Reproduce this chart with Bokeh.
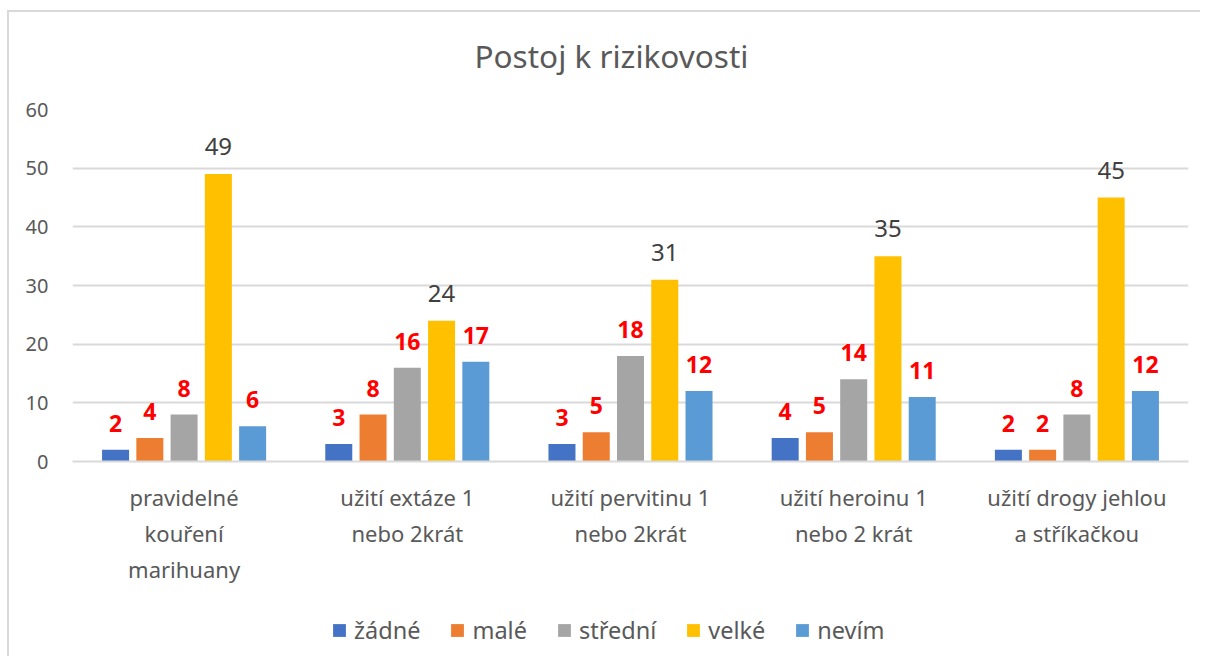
from bokeh.plotting import figure
from bokeh.layouts import column
from bokeh.models import (ColumnDataSource, FactorRange, Range1d, Legend, LegendItem)
from bokeh.transform import dodge
from bokeh.core.properties import value
from bokeh.embed import file_html
from bokeh.resources import INLINE

# ---- data ----
title_text = "Postoj k rizikovosti"
categories = ["pravidelné\nkouření\nmarihuany", "užití extáze 1\nnebo 2krát",
              "užití pervitinu 1\nnebo 2krát", "užití heroinu 1\nnebo 2 krát",
              "užití drogy jehlou\na stříkačkou"]
series_names = ["žádné", "malé", "střední", "velké", "nevím"]
zadne = [2, 3, 3, 4, 2]
male = [4, 8, 5, 5, 2]
stredni = [8, 16, 18, 14, 8]
velke = [49, 24, 31, 35, 45]
nevim = [6, 17, 12, 11, 12]
y_ticks = [0, 10, 20, 30, 40, 50, 60]

series = [zadne, male, stredni, velke, nevim]
colors = ["#4472C4", "#ED7D31", "#A5A5A5", "#FFC000", "#5B9BD5"]
offsets = [-0.307, -0.1535, 0.0, 0.1535, 0.307]
FONT = "Noto Sans"
W = 1191

data = {"cat": categories}
for i, s in enumerate(series):
    data[f"s{i}"] = s
    data[f"t{i}"] = [str(v) for v in s]
source = ColumnDataSource(data)

# title strip
p0 = figure(width=W, height=84, output_backend="svg", toolbar_location=None,
            title=title_text, x_range=Range1d(0, 1), y_range=Range1d(0, 1),
            x_axis_location=None, y_axis_location=None,
            min_border_left=0, min_border_right=0, min_border_top=0, min_border_bottom=0)
p0.grid.visible = False
p0.outline_line_color = None
p0.title.align = "left"
p0.title.offset = 402
p0.title.text_font = FONT
p0.title.text_font_size = "31.5px"
p0.title.text_font_style = "normal"
p0.title.text_color = "#595959"
p0.title.standoff = 38

# main chart
p = figure(x_range=FactorRange(*categories), y_range=Range1d(0, 60),
           width=W, height=589 - 84, output_backend="svg", toolbar_location=None,
           min_border_left=63, min_border_right=12, min_border_top=13,
           min_border_bottom=140)
p.outline_line_color = None

renderers = []
for i, s in enumerate(series):
    r = p.vbar(x=dodge("cat", offsets[i], range=p.x_range), top=f"s{i}", width=0.121,
               source=source, fill_color=colors[i], line_color=None)
    renderers.append(r)
    if i == 3:
        col, size, style, off = "#404040", "24px", "normal", -19
    else:
        col, size, style, off = "#FF0000", "23px", "bold", -18
    p.text(x=dodge("cat", offsets[i], range=p.x_range), y=f"s{i}", text=f"t{i}",
           source=source, text_align="center", text_baseline="bottom", y_offset=off,
           text_font=value(FONT), text_font_size=size, text_font_style=style,
           text_color=col)

p.yaxis.ticker = y_ticks
p.yaxis.axis_line_color = None
p.yaxis.major_tick_line_color = None
p.yaxis.minor_tick_line_color = None
p.yaxis.major_label_text_font = FONT
p.yaxis.major_label_text_font_size = "20px"
p.yaxis.major_label_text_color = "#595959"
p.yaxis.major_label_standoff = 18

p.xaxis.axis_line_color = "#d9d9d9"
p.xaxis.axis_line_width = 2
p.xaxis.major_tick_line_color = None
p.xaxis.minor_tick_line_color = None
p.xaxis.major_label_text_font = FONT
p.xaxis.major_label_text_font_size = "22px"
p.xaxis.major_label_text_color = "#595959"
p.xaxis.major_label_standoff = 14

p.xgrid.grid_line_color = None
p.ygrid.grid_line_color = "#d9d9d9"
p.ygrid.grid_line_width = 2

# legend strip below the chart (zero-size key glyphs in the series colours)
p2 = figure(width=W, height=55, output_backend="svg", toolbar_location=None,
            x_range=Range1d(0, 1), y_range=Range1d(0, 1),
            x_axis_location=None, y_axis_location=None,
            min_border_left=0, min_border_right=0, min_border_top=0, min_border_bottom=0)
p2.grid.visible = False
p2.outline_line_color = None
key_src = ColumnDataSource(dict(x=[0], top=[0]))
keys = [p2.vbar(x="x", top="top", width=0, source=key_src, fill_color=c, line_color=None)
        for c in colors]
legend = Legend(items=[LegendItem(label=n, renderers=[r]) for n, r in zip(series_names, keys)],
                orientation="horizontal", location=(259, 10),
                glyph_width=16, glyph_height=16, spacing=29, label_standoff=7,
                padding=0, margin=0, border_line_color=None, background_fill_alpha=0,
                label_text_font=FONT, label_text_font_size="23.5px",
                label_text_color="#595959")
p2.add_layout(legend)

layout = column(p0, p, p2, spacing=0)
layout.styles = {"margin-left": "7px", "margin-top": "10px",
                 "border-top": "2px solid #d9d9d9", "border-left": "2px solid #d9d9d9"}

open("out.html", "w").write(file_html(layout, INLINE))
